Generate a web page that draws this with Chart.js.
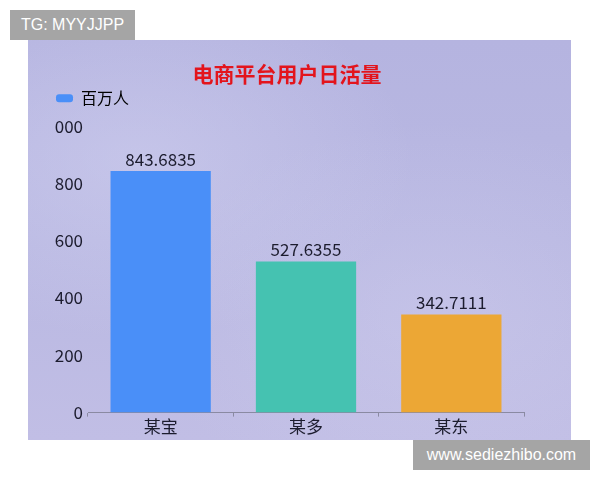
<!DOCTYPE html>
<html>
<head>
<meta charset="utf-8">
<script src="https://cdn.jsdelivr.net/npm/chart.js@4.4.0/dist/chart.umd.min.js"></script>
<style>
  html, body { margin: 0; padding: 0; background: #fff; }
  body { width: 600px; height: 480px; position: relative; overflow: hidden;
         font-family: "Noto Sans CJK SC", "Noto Sans", sans-serif; }
  #panel {
    position: absolute; left: 28px; top: 40px; width: 543px; height: 400px;
    background:
      radial-gradient(ellipse at 20% 30%, rgba(218,218,245,0.4), rgba(218,218,245,0) 45%),
      radial-gradient(ellipse at 75% 70%, rgba(212,210,240,0.35), rgba(212,210,240,0) 50%),
      linear-gradient(180deg, #b5b4e0 0%, #b9b8e2 50%, #c1bee5 100%);
  }
  #tag {
    position: absolute; left: 10px; top: 10px; width: 125px; height: 30px;
    background: #a5a5a5; color: #fff; font: 16px "Liberation Sans", Arial, sans-serif;
    line-height: 30px; text-align: center;
  }
  #site {
    position: absolute; left: 413px; top: 440px; width: 177px; height: 30px;
    background: #a5a5a5; color: #fff; font: 16px "Liberation Sans", Arial, sans-serif;
    line-height: 30px; text-align: center;
  }
</style>
</head>
<body>
<div id="panel"><canvas id="myChart" width="543" height="400"></canvas></div>
<div id="tag">TG: MYYJJPP</div>
<div id="site">www.sediezhibo.com</div>
<script>
    // 数据
    var platforms = ["某宝", "某多", "某东"];
    var dailyActive = [843.6835, 527.6355, 342.7111];
    var barColors = ["#4a8ff8", "#45c2b1", "#eca735"];
    var yTickValues = [0, 200, 400, 600, 800, 1000];
    var yTickLabels = ["0", "200", "400", "600", "800", "000"];

    var textColor = "#1c1c2e";
    var fontFamily = '"Noto Sans CJK SC", "Noto Sans", sans-serif';

    // 柱子上方的数值
    var valueLabels = {
        id: "valueLabels",
        afterDatasetsDraw: function (chart) {
            var ctx = chart.ctx;
            var meta = chart.getDatasetMeta(0);
            ctx.save();
            ctx.font = "17px " + fontFamily;
            ctx.fillStyle = textColor;
            ctx.textAlign = "center";
            ctx.textBaseline = "bottom";
            meta.data.forEach(function (bar, i) {
                ctx.fillText(String(chart.data.datasets[0].data[i]), bar.x, bar.y - 3);
            });
            ctx.restore();
        }
    };

    // 图例与坐标区之间留白, 图例右移, 标题右移
    var legendGap = {
        id: "legendGap",
        beforeInit: function (chart) {
            var fit = chart.legend.fit;
            chart.legend.fit = function () {
                fit.bind(chart.legend)();
                this.height += 10;
            };
        },
        afterLayout: function (chart) {
            chart.legend.left += 24;
            chart.legend.right += 24;
            chart.titleBlock.left += 11;
            chart.titleBlock.right += 11;
        }
    };

    var ctx = document.getElementById("myChart");
    var chart = new Chart(ctx, {
        type: "bar",
        data: {
            labels: platforms,
            datasets: [{
                label: "百万人",
                data: dailyActive,
                backgroundColor: barColors,
                borderWidth: 0,
                barPercentage: 0.69,
                categoryPercentage: 1
            }]
        },
        options: {
            responsive: false,
            animation: false,
            layout: { padding: { left: 0, right: 47, top: 0, bottom: 3 } },
            plugins: {
                title: {
                    display: true,
                    text: "电商平台用户日活量",
                    color: "#e3141c",
                    font: { size: 21, weight: "bold", family: fontFamily },
                    padding: { top: 21, bottom: 0 }
                },
                legend: {
                    display: true,
                    position: "top",
                    align: "start",
                    labels: {
                        color: textColor,
                        font: { size: 16, family: fontFamily },
                        boxWidth: 17,
                        boxHeight: 8,
                        padding: 4,
                        useBorderRadius: true,
                        borderRadius: 3,
                        generateLabels: function (chart) {
                            return [{
                                text: chart.data.datasets[0].label,
                                fillStyle: barColors[0],
                                strokeStyle: barColors[0],
                                lineWidth: 0,
                                borderRadius: 3,
                                datasetIndex: 0
                            }];
                        }
                    }
                },
                tooltip: { enabled: false }
            },
            scales: {
                x: {
                    grid: {
                        display: true,
                        drawOnChartArea: false,
                        drawTicks: true,
                        tickLength: 4,
                        color: "#8a8aa2"
                    },
                    border: { display: true, color: "#8a8aa2", width: 1 },
                    ticks: {
                        color: textColor,
                        font: { size: 17, family: fontFamily },
                        padding: 0
                    }
                },
                y: {
                    min: 0,
                    max: 1000,
                    afterFit: function (scale) { scale.width = 60; },
                    afterBuildTicks: function (scale) {
                        scale.ticks = yTickValues.map(function (v) { return { value: v }; });
                    },
                    grid: { display: false, drawTicks: false },
                    border: { display: false },
                    ticks: {
                        color: textColor,
                        font: { size: 17, family: fontFamily },
                        padding: 5,
                        callback: function (value) {
                            var i = yTickValues.indexOf(value);
                            return i >= 0 ? yTickLabels[i] : "";
                        }
                    }
                }
            }
        },
        plugins: [valueLabels, legendGap]
    });
</script>
</body>
</html>
